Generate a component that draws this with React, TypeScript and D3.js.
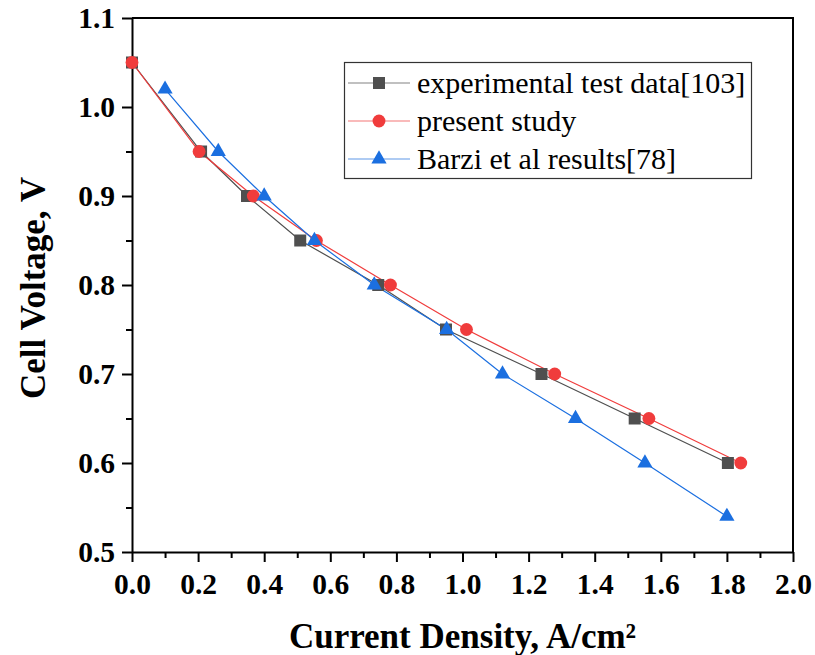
import React, { useEffect, useRef } from "react";
import * as d3 from "d3";

// series
const expX = [0.0, 0.209, 0.348, 0.509, 0.745, 0.95, 1.239, 1.521, 1.803];
const expY = [1.05, 0.95, 0.9, 0.85, 0.8, 0.75, 0.7, 0.65, 0.6];

const studyX = [0.0, 0.203, 0.367, 0.558, 0.782, 1.012, 1.279, 1.564, 1.842];
const studyY = [1.05, 0.95, 0.9, 0.85, 0.8, 0.75, 0.7, 0.65, 0.6];

const barziX = [0.1, 0.261, 0.4, 0.552, 0.733, 0.952, 1.121, 1.342, 1.552, 1.8];
const barziY = [1.02, 0.95, 0.9, 0.85, 0.8, 0.75, 0.7, 0.65, 0.6, 0.54];

const xTicks = [0, 0.2, 0.4, 0.6, 0.8, 1.0, 1.2, 1.4, 1.6, 1.8, 2.0];
const xMinor = [0.1, 0.3, 0.5, 0.7, 0.9, 1.1, 1.3, 1.5, 1.7, 1.9];
const yTicks = [0.5, 0.6, 0.7, 0.8, 0.9, 1.0, 1.1];
const yMinor = [0.55, 0.65, 0.75, 0.85, 0.95, 1.05];

const seriesNames = ["experimental test data[103]", "present study", "Barzi et al results[78]"];

export default function App() {
  const ref = useRef<SVGSVGElement>(null);

  useEffect(() => {
    const svg = d3.select(ref.current);
    svg.selectAll("*").remove();

    const W = 815, H = 655;
    const m = { left: 132, right: 22, top: 18, bottom: 103 };
    const x = d3.scaleLinear().domain([0, 2]).range([m.left, W - m.right]);
    const y = d3.scaleLinear().domain([0.5, 1.1]).range([H - m.bottom, m.top]);

    const serif = "'Liberation Serif', 'Times New Roman', serif";

    // frame (top + right)
    svg.append("path")
      .attr("d", `M${x(0)},${y(1.1)}H${x(2)}V${y(0.5)}`)
      .attr("fill", "none").attr("stroke", "#000").attr("stroke-width", 2);

    // minor ticks
    svg.append("g").attr("transform", `translate(0,${y(0.5)})`)
      .call(d3.axisBottom(x).tickValues(xMinor).tickSize(6).tickFormat(() => ""))
      .call((g) => g.select(".domain").remove())
      .selectAll("line").attr("stroke-width", 2);
    svg.append("g").attr("transform", `translate(${x(0)},0)`)
      .call(d3.axisLeft(y).tickValues(yMinor).tickSize(6).tickFormat(() => ""))
      .call((g) => g.select(".domain").remove())
      .selectAll("line").attr("stroke-width", 2);

    // major axes
    const gx = svg.append("g").attr("transform", `translate(0,${y(0.5)})`)
      .call(d3.axisBottom(x).tickValues(xTicks).tickSize(10).tickSizeOuter(0).tickPadding(10).tickFormat(d3.format(".1f")));
    const gy = svg.append("g").attr("transform", `translate(${x(0)},0)`)
      .call(d3.axisLeft(y).tickValues(yTicks).tickSize(10).tickSizeOuter(0).tickPadding(7).tickFormat(d3.format(".1f")));
    [gx, gy].forEach((g) => {
      g.select(".domain").attr("stroke-width", 2);
      g.selectAll("line").attr("stroke-width", 2);
      g.selectAll("text")
        .attr("font-family", serif).attr("font-weight", "bold")
        .attr("font-size", 29.5).attr("fill", "#000");
    });
    gx.selectAll("text").attr("dy", "0.74em");

    const plot = svg.append("g");
    const line = d3.line<[number, number]>().x((d) => x(d[0])).y((d) => y(d[1]));

    const series = [
      { xs: expX, ys: expY, color: "#4f4f4f", sym: d3.symbolSquare, size: 144 },
      { xs: studyX, ys: studyY, color: "#f03c3c", sym: d3.symbolCircle, size: 130 },
      { xs: barziX, ys: barziY, color: "#1b6fe0", sym: d3.symbolTriangle, size: 100 },
    ];

    series.forEach((s) => {
      const pts = s.xs.map((v, i) => [v, s.ys[i]] as [number, number]);
      plot.append("path").attr("d", line(pts)).attr("fill", "none")
        .attr("stroke", s.color).attr("stroke-width", 1.2);
    });
    series.forEach((s) => {
      const sym = d3.symbol().type(s.sym).size(s.size);
      plot.selectAll(null).data(s.xs.map((v, i) => [v, s.ys[i]]))
        .enter().append("path")
        .attr("d", sym() as string)
        .attr("transform", (d) => `translate(${x(d[0])},${y(d[1])})`)
        .attr("fill", s.color);
    });

    // legend
    const lg = svg.append("g");
    lg.append("rect").attr("x", 344.5).attr("y", 62.5).attr("width", 407).attr("height", 116)
      .attr("fill", "#fff").attr("stroke", "#333").attr("stroke-width", 1.2);
    series.forEach((s, i) => {
      const cy = 83 + i * 38;
      lg.append("line").attr("x1", 348).attr("x2", 410).attr("y1", cy).attr("y2", cy)
        .attr("stroke", s.color).attr("stroke-width", 1.2).attr("opacity", 0.7);
      lg.append("path").attr("d", d3.symbol().type(s.sym).size(s.size)() as string)
        .attr("transform", `translate(379,${cy})`).attr("fill", s.color);
      lg.append("text").attr("x", 417).attr("y", cy).attr("dy", "0.33em")
        .attr("font-family", serif).attr("font-size", 30).attr("fill", "#000")
        .text(seriesNames[i]);
    });

    // axis titles
    svg.append("text").attr("x", (x(0) + x(2)) / 2).attr("y", 648)
      .attr("text-anchor", "middle").attr("font-family", serif).attr("font-weight", "bold")
      .attr("font-size", 35).attr("fill", "#000").text("Current Density, A/cm²");
    svg.append("text").attr("transform", `translate(45,${(y(0.5) + y(1.1)) / 2 + 3}) rotate(-90)`)
      .attr("text-anchor", "middle").attr("font-family", serif).attr("font-weight", "bold")
      .attr("font-size", 35).attr("fill", "#000").text("Cell Voltage, V");
  }, []);

  return (
    <svg ref={ref} width={815} height={655}
      style={{ position: "absolute", left: 0, top: 0, background: "#fff" }} />
  );
}
